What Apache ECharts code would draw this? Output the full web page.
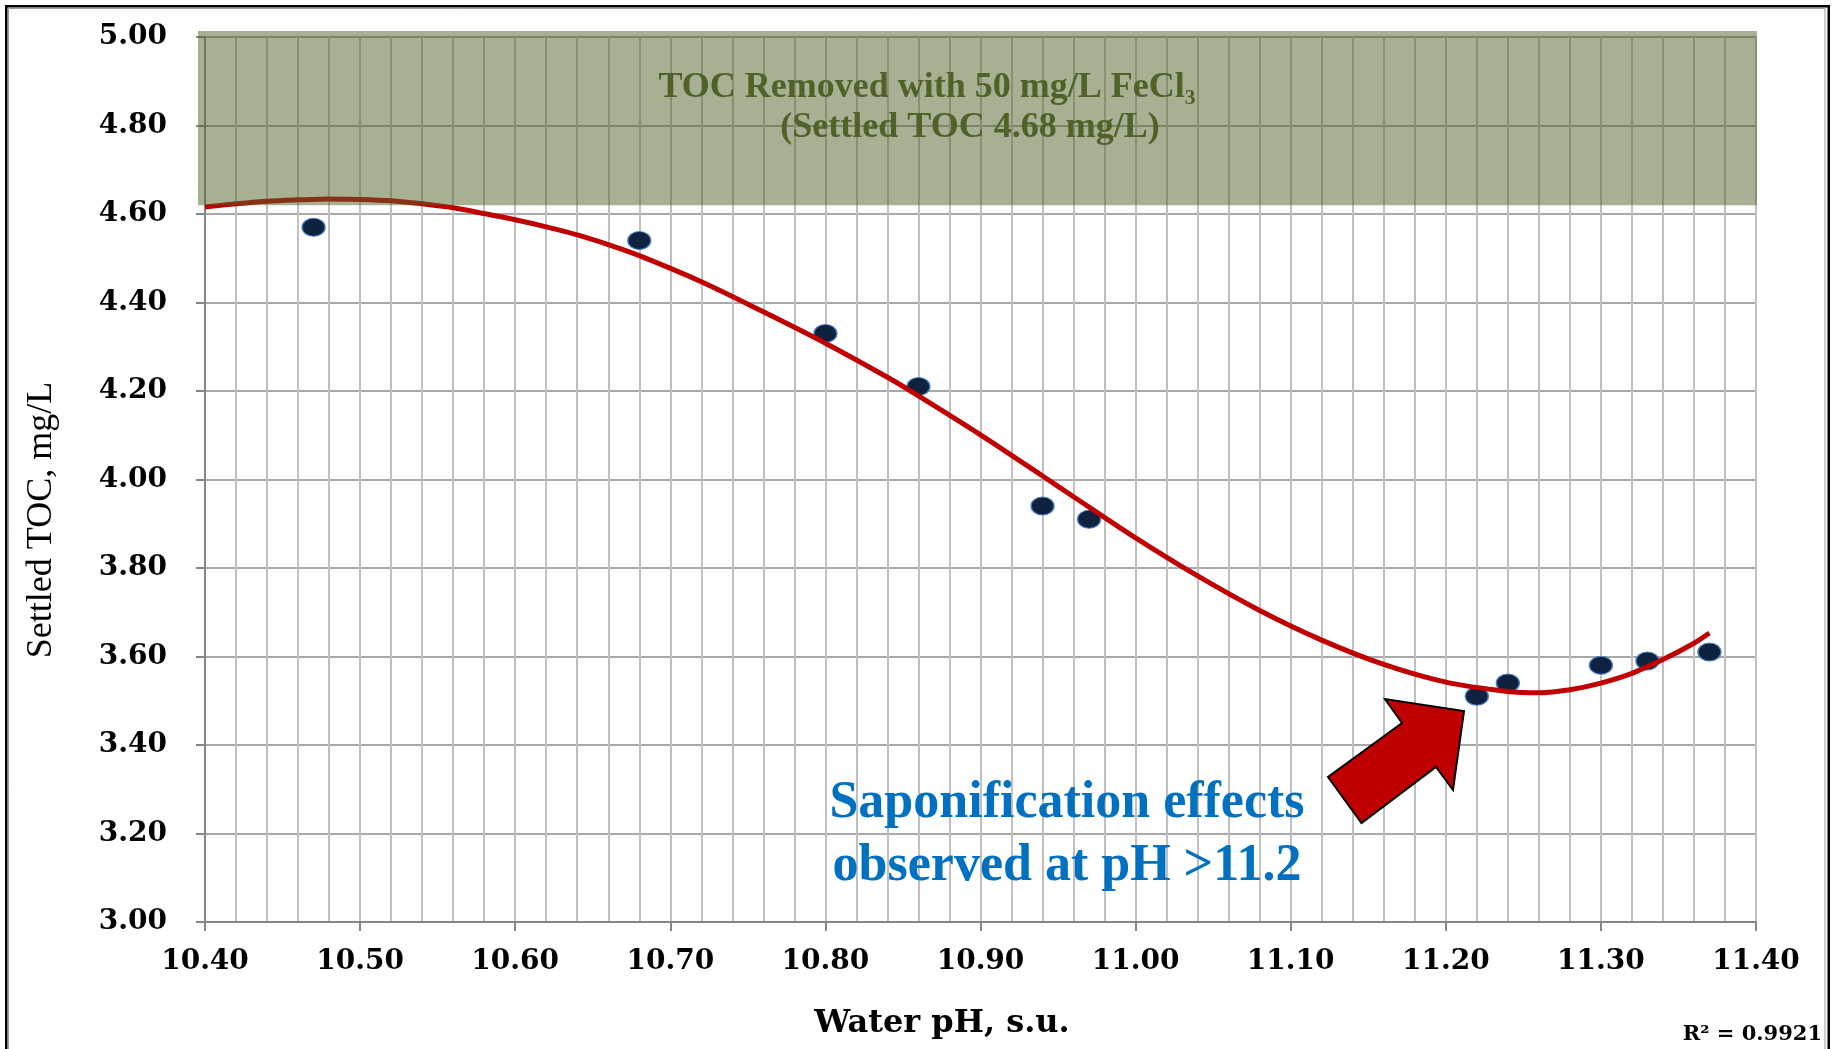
<!DOCTYPE html>
<html>
<head>
<meta charset="utf-8">
<title>Settled TOC vs Water pH</title>
<script src="https://cdn.jsdelivr.net/npm/echarts@6/dist/echarts.min.js"></script>
<style>
  html, body { margin: 0; padding: 0; background: #ffffff; }
  #chart { width: 1835px; height: 1049px; }
</style>
</head>
<body>
<div id="chart"></div>
<script>
// Measured jar-test results: water pH vs settled TOC (mg/L)
const phValues  = [10.47, 10.68, 10.80, 10.86, 10.94, 10.97, 11.22, 11.24, 11.30, 11.33, 11.37];
const tocValues = [4.57, 4.54, 4.33, 4.21, 3.94, 3.91, 3.51, 3.54, 3.58, 3.59, 3.61];

// Polynomial trend line (R² = 0.9921), sampled along pH
const trendPh  = [10.40, 10.42, 10.44, 10.46, 10.48, 10.50, 10.52, 10.54, 10.56, 10.58,
                  10.60, 10.62, 10.64, 10.66, 10.68, 10.72, 10.76, 10.80, 10.84, 10.86,
                  10.90, 10.94, 10.96, 11.00, 11.04, 11.08, 11.12, 11.16, 11.20, 11.24,
                  11.26, 11.28, 11.30, 11.32, 11.34, 11.36, 11.37];
const trendToc = [4.616, 4.623, 4.629, 4.632, 4.634, 4.633, 4.630, 4.623, 4.614, 4.601,
                  4.587, 4.571, 4.553, 4.531, 4.506, 4.447, 4.379, 4.308, 4.231, 4.189,
                  4.101, 4.008, 3.961, 3.868, 3.782, 3.704, 3.637, 3.582, 3.542, 3.521,
                  3.518, 3.525, 3.540, 3.562, 3.593, 3.630, 3.653];

// Axis ticks
const xTicks = [10.40, 10.50, 10.60, 10.70, 10.80, 10.90, 11.00, 11.10, 11.20, 11.30, 11.40];
const yTicks = [3.00, 3.20, 3.40, 3.60, 3.80, 4.00, 4.20, 4.40, 4.60, 4.80, 5.00];

// Shaded band: TOC removed with 50 mg/L FeCl3
const bandToc = [4.62, 5.00];

const bandLines = ['TOC Removed with 50 mg/L FeCl\u2083', '(Settled TOC 4.68 mg/L)'];
const noteText = 'Saponification effects\nobserved at pH >11.2';
const r2Text = 'R\u00b2 = 0.9921';
const xTitle = 'Water pH, s.u.';
const yTitle = 'Settled TOC, mg/L';

const tickFont = 'DejaVu Serif';
const axisGray = '#868686';

const chart = echarts.init(document.getElementById('chart'), null, { renderer: 'canvas' });

const option = {
  animation: false,
  backgroundColor: '#ffffff',
  grid: { left: 205, right: 79, top: 37, bottom: 127, containLabel: false, outerBoundsMode: 'none' },
  xAxis: {
    type: 'value',
    min: xTicks[0],
    max: xTicks[xTicks.length - 1],
    interval: 0.1,
    axisLine: { show: true, onZero: false, lineStyle: { color: axisGray, width: 2 } },
    axisTick: { show: true, inside: false, length: 9, lineStyle: { color: axisGray, width: 2 } },
    axisLabel: {
      margin: 26, color: '#000', fontFamily: tickFont, fontWeight: 'bold', fontSize: 28,
      formatter: v => v.toFixed(2)
    },
    splitLine: { show: true, lineStyle: { color: '#c0c0c0', width: 2 } },
    minorTick: { show: false, splitNumber: 5 },
    minorSplitLine: { show: true, lineStyle: { color: '#c0c0c0', width: 2 } }
  },
  yAxis: {
    type: 'value',
    min: yTicks[0],
    max: yTicks[yTicks.length - 1],
    interval: 0.2,
    axisLine: { show: true, onZero: false, lineStyle: { color: axisGray, width: 2 } },
    axisTick: { show: true, inside: false, length: 9, lineStyle: { color: axisGray, width: 2 } },
    axisLabel: {
      margin: 38, color: '#000', fontFamily: tickFont, fontWeight: 'bold', fontSize: 28,
      formatter: v => v.toFixed(2)
    },
    splitLine: { show: true, lineStyle: { color: '#a8a8a8', width: 2 } }
  },
  series: [
    {
      name: 'Settled TOC',
      type: 'scatter',
      z: 2,
      symbol: 'circle',
      symbolSize: [23, 18],
      itemStyle: { color: '#0e2240', borderColor: '#4a7fc0', borderWidth: 1.2, opacity: 1 },
      data: phValues.map((p, i) => [p, tocValues[i]])
    },
    {
      name: 'Trend',
      type: 'line',
      z: 3,
      smooth: 0.3,
      showSymbol: false,
      symbol: 'none',
      lineStyle: { color: '#c00000', width: 5 },
      data: trendPh.map((p, i) => [p, trendToc[i]])
    }
  ]
};

chart.setOption(option);

// Band corners from the axes' own scales
const bandTL = chart.convertToPixel({ gridIndex: 0 }, [xTicks[0], bandToc[1]]);
const bandBR = chart.convertToPixel({ gridIndex: 0 }, [xTicks[xTicks.length - 1], bandToc[0]]);
const bandPadLeft = 7, bandPadTop = 6, bandPadRight = 1;

chart.setOption({
  graphic: [
    // outer frame
    { type: 'rect', z: 100, silent: true,
      shape: { x: 6.25, y: 6.25, width: 1822.5, height: 1100 },
      style: { fill: 'none', stroke: '#000', lineWidth: 2.5 } },
    { type: 'rect', z: 100, silent: true,
      shape: { x: 8.5, y: 8.5, width: 1816.5, height: 1100 },
      style: { fill: 'none', stroke: '#9a9a9a', lineWidth: 1 } },
    // translucent removal band over the plot
    { type: 'rect', z: 50, silent: true,
      shape: {
        x: bandTL[0] - bandPadLeft,
        y: bandTL[1] - bandPadTop,
        width: (bandBR[0] - bandTL[0]) + bandPadLeft + bandPadRight,
        height: (bandBR[1] - bandTL[1]) + bandPadTop
      },
      style: { fill: 'rgba(79,98,40,0.5)' } },
    { type: 'text', z: 60, silent: true, x: 927, y: 88,
      style: { text: bandLines[0], font: 'bold 36px "Liberation Serif"', fill: '#4f6228',
               align: 'center', verticalAlign: 'middle' } },
    { type: 'text', z: 60, silent: true, x: 970, y: 128,
      style: { text: bandLines[1], font: 'bold 36px "Liberation Serif"', fill: '#4f6228',
               align: 'center', verticalAlign: 'middle' } },
    // callout arrow and note
    { type: 'polygon', z: 60, silent: true,
      shape: { points: [[1464, 711], [1453, 790], [1436, 767], [1361.5, 823], [1328, 777], [1402, 723], [1385, 699]] },
      style: { fill: '#c00000', stroke: '#000', lineWidth: 2 } },
    { type: 'text', z: 60, silent: true, x: 1067, y: 835,
      style: { text: noteText, font: 'bold 52px "Liberation Serif"', fill: '#0070c0',
               align: 'center', verticalAlign: 'middle', lineHeight: 63 } },
    // axis titles
    { type: 'text', z: 60, silent: true, x: 942, y: 1024,
      style: { text: xTitle, font: 'bold 32px "DejaVu Serif"', fill: '#000',
               align: 'center', verticalAlign: 'middle' } },
    { type: 'text', z: 60, silent: true, x: 42, y: 520, rotation: Math.PI / 2,
      style: { text: yTitle, font: '36px "Liberation Serif"', fill: '#000',
               align: 'center', verticalAlign: 'middle' } },
    // fit statistic
    { type: 'text', z: 60, silent: true, x: 1822, y: 1035,
      style: { text: r2Text, font: 'bold 21px "DejaVu Serif"', fill: '#000',
               align: 'right', verticalAlign: 'middle' } }
  ]
});
</script>
</body>
</html>
